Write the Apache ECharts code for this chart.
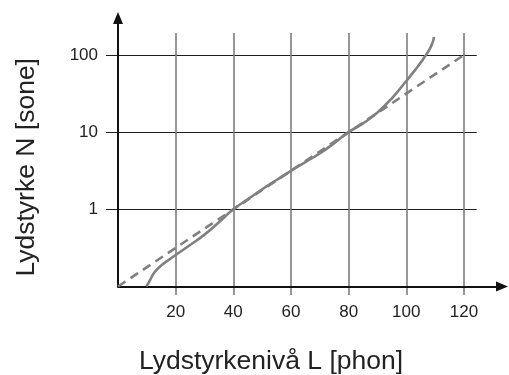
<!DOCTYPE html>
<html>
<head>
<meta charset="utf-8">
<script src="https://cdn.jsdelivr.net/npm/echarts@6/dist/echarts.min.js"></script>
<style>
  html, body { margin: 0; padding: 0; background: #fff; }
  #chart { width: 509px; height: 375px; }
</style>
</head>
<body>
<div id="chart"></div>
<script>
// Tick labels
const xTicks = [20, 40, 60, 80, 100, 120];
const yTicks = [1, 10, 100];

// Solid curve: loudness N (sone) vs loudness level L (phon)
const solidL = [9.9, 11.1, 12.8, 15.2, 17.5, 20, 25, 30, 35, 40, 45, 50, 55, 60, 65, 70, 75, 80, 85, 90, 95, 100, 102, 104, 106, 108, 109.2, 109.6];
const solidN = [0.1, 0.121, 0.155, 0.19, 0.22, 0.256, 0.345, 0.47, 0.68, 1, 1.35, 1.82, 2.4, 3.16, 4.1, 5.3, 7.2, 10, 13, 18, 27.5, 46, 57, 71, 90, 117, 148, 172];

// Dashed straight line (log scale)
const dashL = [0, 40, 80, 120];
const dashN = [0.1, 1, 10, 100];

const xName = 'Lydstyrkenivå L [phon]';
const yName = 'Lydstyrke N [sone]';

const solidData = solidL.map((l, i) => [l, solidN[i]]);
const dashData = dashL.map((l, i) => [l, dashN[i]]);

const FONT = 'Liberation Sans, Arial, Helvetica, sans-serif';
const chart = echarts.init(document.getElementById('chart'), null, { renderer: 'canvas' });

chart.setOption({
  animation: false,
  backgroundColor: '#ffffff',
  grid: [
    { // main grid with arrow axes
      left: 118, right: 7, top: 18, bottom: 88.5,
      containLabel: false, outerBoundsMode: 'none'
    },
    { // grid-line grid (lines extend slightly beyond axes)
      left: 106, right: 32.3, top: 33, bottom: 80,
      containLabel: false, outerBoundsMode: 'none'
    }
  ],
  xAxis: [
    {
      gridIndex: 0, type: 'value', min: 0, max: 133.2,
      axisLine: { show: true, symbol: ['none', 'triangle'], symbolSize: [10, 12],
        lineStyle: { color: '#111', width: 2 } },
      axisTick: { show: false },
      splitLine: { show: false },
      axisLabel: { customValues: xTicks, color: '#222', fontSize: 17, fontFamily: FONT, margin: 17 },
      name: xName, nameLocation: 'middle', nameGap: 62,
      nameTextStyle: { color: '#222', fontSize: 26.5, fontFamily: FONT, padding: [0, 78, 0, 0] }
    },
    {
      gridIndex: 1, type: 'value', min: -4.16, max: 124.4,
      axisLine: { show: false }, axisLabel: { show: false },
      axisTick: { show: false, customValues: xTicks },
      splitLine: { show: true, lineStyle: { color: '#7d7d7d', width: 1.6 } }
    }
  ],
  yAxis: [
    {
      gridIndex: 0, type: 'log', logBase: 10, min: 0.1, max: 301.6,
      axisLine: { show: true, symbol: ['none', 'triangle'], symbolSize: [10, 12],
        lineStyle: { color: '#111', width: 2 } },
      axisTick: { show: false },
      splitLine: { show: false },
      axisLabel: { customValues: yTicks, color: '#222', fontSize: 17, fontFamily: FONT, margin: 20 },
      name: yName, nameLocation: 'middle', nameGap: 78,
      nameTextStyle: { color: '#222', fontSize: 26.5, fontFamily: FONT, padding: [0, 30, 0, 0] }
    },
    {
      gridIndex: 1, type: 'log', logBase: 10, min: 0.0774, max: 192.8,
      axisLine: { show: false }, axisLabel: { show: false },
      axisTick: { show: false, customValues: yTicks },
      splitLine: { show: true, lineStyle: { color: '#1e1e1e', width: 1.1 } }
    }
  ],
  series: [
    {
      type: 'line', xAxisIndex: 0, yAxisIndex: 0,
      data: dashData, showSymbol: false, symbol: 'none',
      lineStyle: { color: '#808080', width: 2.6, type: [9, 6] },
      z: 3
    },
    {
      type: 'line', xAxisIndex: 0, yAxisIndex: 0,
      data: solidData, showSymbol: false, symbol: 'none', smooth: 0.5,
      lineStyle: { color: '#808080', width: 2.6 },
      z: 4
    }
  ]
});
</script>
</body>
</html>
